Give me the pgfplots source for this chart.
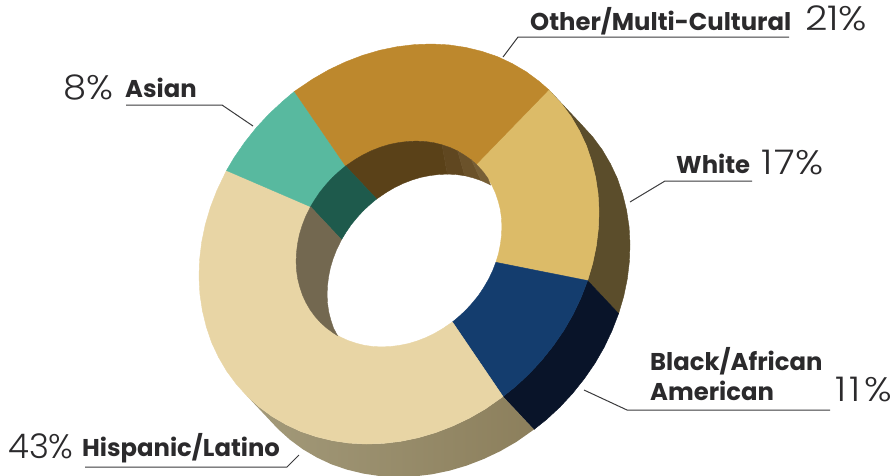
\documentclass[border=0pt]{standalone}
\usepackage{graphicx}
\usepackage{pgfplots}
\usepackage{fontspec}
\pgfplotsset{compat=1.18}
\setmainfont{Poppins}
\newfontfamily\lightf{Poppins Light}
\definecolor{txt}{HTML}{2B2A2C}
\definecolor{lead}{HTML}{3A3A3C}
\definecolor{cHisp}{HTML}{E8D5A5}
\definecolor{cTeal}{HTML}{58B99F}
\definecolor{cOrange}{HTML}{BD882D}
\definecolor{cGold}{HTML}{DCBB68}
\definecolor{cBlue}{HTML}{143D6E}
\definecolor{sGold}{HTML}{5B4D2B}
\definecolor{sBlue}{HTML}{091429}
\definecolor{sHispL}{HTML}{A39A7A}
\definecolor{sHispR}{HTML}{8C7F5C}
\definecolor{wOrange}{HTML}{5A4118}
\definecolor{wOrangeA}{HTML}{604720}
\definecolor{wOrangeB}{HTML}{6B522A}
\definecolor{wOrangeC}{HTML}{775F36}
\definecolor{wTeal}{HTML}{1E5A4C}
\definecolor{wHisp}{HTML}{736850}
\newcommand{\lab}[1]{\fontsize{24.3}{24.3}\selectfont\bfseries #1}
\newcommand{\pct}[2]{\scalebox{#1}[1]{\fontsize{34}{34}\selectfont\lightf #2}}
\begin{document}
\begin{tikzpicture}
\useasboundingbox (0,0) rectangle (894pt,475pt);
\begin{axis}[scale only axis,width=894pt,height=475pt,
    xmin=0,xmax=894,ymin=0,ymax=475,y dir=reverse,hide axis,
    every axis plot/.append style={line width=0.4pt},
    clip=true]

% outer side of the ring
\addplot[fill=sGold,draw=sGold] coordinates {
 (548.7,89.7) (561.7,103.9) (571.3,116.9) (579.5,130.9) (586.4,145.6) (591.7,161.3) (595.6,177.4) (598.1,194.1) (599,211.2) (598.4,228.4) (596.3,245.9) (592.7,263.3) (587.6,280.6)
 (618.6,313.6) (623.7,296.3) (627.3,278.9) (629.4,261.4) (630,244.2) (629.1,227.1) (626.6,210.4) (622.7,194.3) (617.4,178.6) (610.5,163.9) (602.3,149.9) (592.7,136.9) (579.7,122.7)} -- cycle;
\addplot[fill=sBlue,draw=sBlue] coordinates {
 (587.6,280.6) (581.1,297.5) (573.2,314.2) (564,330.2) (553.4,345.6) (541.7,360.3) (529,374) (515.3,386.7) (503,396.5)
 (534,429.5) (546.3,419.7) (560,407) (572.7,393.3) (584.4,378.6) (595,363.2) (604.2,347.2) (612.1,330.5) (618.6,313.6)} -- cycle;
\addplot[left color=sHispL,right color=sHispR,draw=none] coordinates {
 (503,396.5) (485.2,409) (469.2,418.2) (452.5,426.1) (435.6,432.6) (418.3,437.7) (400.9,441.3) (383.4,443.4) (366.2,444) (349.1,443.1) (332.4,440.6) (316.3,436.7) (300.6,431.4) (285.9,424.5) (271.9,416.3) (258.9,406.7) (247,396)
 (278,429) (289.9,439.7) (302.9,449.3) (316.9,457.5) (331.6,464.4) (347.3,469.7) (363.4,473.6) (380.1,476.1) (397.2,477) (414.4,476.4) (431.9,474.3) (449.3,470.7) (466.6,465.6) (483.5,459.1) (500.2,451.2) (516.2,442) (534,429.5)} -- cycle;

% front face
\addplot[fill=cGold,draw=cGold] coordinates {
 (548.7,89.7) (561.7,103.9) (571.3,116.9) (579.5,130.9) (586.4,145.6) (591.7,161.3) (595.6,177.4) (598.1,194.1) (599,211.2) (598.4,228.4) (596.3,245.9) (592.7,263.3) (587.6,280.6)
 (495.9,262.3) (498.6,253.4) (500.4,244.4) (501.5,235.5) (501.9,226.7) (501.5,217.9) (500.3,209.3) (498.2,201) (495.5,192.9) (492,185.4) (487.9,178.3) (483,171.6) (476.3,164.3)} -- cycle;
\addplot[fill=cBlue,draw=cBlue] coordinates {
 (587.6,280.6) (581.1,297.5) (573.2,314.2) (564,330.2) (553.4,345.6) (541.7,360.3) (529,374) (515.3,386.7) (503,396.5)
 (452.4,322) (458.4,317) (465.5,310.5) (472,303.4) (478.2,295.8) (483.5,287.9) (488.3,279.7) (492.5,271.1) (495.9,262.3)} -- cycle;
\addplot[fill=cHisp,draw=cHisp] coordinates {
 (503,396.5) (485.2,409) (469.2,418.2) (452.5,426.1) (435.6,432.6) (418.3,437.7) (400.9,441.3) (383.4,443.4) (366.2,444) (349.1,443.1) (332.4,440.6) (316.3,436.7) (300.6,431.4) (285.9,424.5) (271.9,416.3) (258.9,406.7) (247,396)
 (236.3,384.1) (226.7,371.1) (218.5,357.1) (211.6,342.4) (206.3,326.7) (202.4,310.6) (199.9,293.9) (199,276.8) (199.6,259.6) (201.7,242.1) (205.3,224.7) (210.4,207.4) (216.9,190.5) (226.5,170.5)
 (310.5,206.7) (305.5,216.9) (302.1,225.7) (299.4,234.6) (297.6,243.6) (296.5,252.5) (296.1,261.3) (296.5,270.1) (297.7,278.7) (299.8,287) (302.5,295.1) (306,302.6) (310.1,309.7) (315,316.4) (320.5,322.5) (326.6,328)
 (333.3,332.9) (340.4,337) (347.9,340.5) (356,343.2) (364.3,345.3) (372.9,346.5) (381.7,346.9) (390.5,346.5) (399.4,345.4) (408.4,343.6) (417.3,340.9) (426.1,337.5) (434.7,333.3) (442.9,328.5) (452.4,322)} -- cycle;
\addplot[fill=cTeal,draw=cTeal] coordinates {
 (226.5,170.5) (234,157.8) (244.6,142.4) (256.3,127.7) (269,114) (282.7,101.3) (294.4,91.4)
 (345.6,166) (339.6,171) (332.5,177.5) (326,184.6) (319.8,192.2) (314.5,200.1) (310.5,206.7)} -- cycle;
\addplot[fill=cOrange,draw=cOrange] coordinates {
 (294.4,91.4) (312.8,79) (328.8,69.8) (345.5,61.9) (362.4,55.4) (379.7,50.3) (397.1,46.7) (414.6,44.6) (431.8,44) (448.9,44.9) (465.6,47.4) (481.7,51.3) (497.4,56.6) (512.1,63.5) (526.1,71.7) (539.1,81.3) (548.7,89.7)
 (476.3,164.3) (471.4,160) (464.7,155.3) (457.6,151) (450.1,147.5) (442,144.8) (433.7,142.7) (425.1,141.5) (416.3,141.1) (407.5,141.5) (398.6,142.6) (389.6,144.4) (380.7,147.1) (371.9,150.5) (363.3,154.7) (355.1,159.5) (345.6,166)} -- cycle;

% inner wall seen through the hole
\addplot[fill=wOrange,draw=wOrange] coordinates {
 (442,144.8) (433.7,142.7) (425.1,141.5) (416.3,141.1) (407.5,141.5) (398.6,142.6) (389.6,144.4) (380.7,147.1) (371.9,150.5) (363.3,154.7) (355.1,159.5) (345.6,166)
 (376.6,199) (386.1,192.5) (394.3,187.7) (402.9,183.5) (411.7,180.1) (420.6,177.4) (429.6,175.6) (438.5,174.5) (447.3,174.1)} -- cycle;
\addplot[fill=wOrangeA,draw=wOrangeA] coordinates {
 (442,144.8) (450.1,147.5) (457.6,151) (464.7,175.7) (456.1,174.5) (447.3,174.1)} -- cycle;
\addplot[fill=wOrangeB,draw=wOrangeB] coordinates {
 (457.6,151) (464.7,155.3) (471.4,160) (481.1,180.5) (473,177.8) (464.7,175.7)} -- cycle;
\addplot[fill=wOrangeC,draw=wOrangeC] coordinates {
 (471.4,160) (476.3,164.3) (483,171.6) (487.9,178.3) (490.5,185) (488.6,184) (481.1,180.5)} -- cycle;
\addplot[fill=wTeal,draw=wTeal] coordinates {
 (345.6,166) (339.6,171) (332.5,177.5) (326,184.6) (319.8,192.2) (314.5,200.1) (310.5,206.7)
 (341.5,239.7) (345.5,233.1) (350.8,225.2) (357,217.6) (363.5,210.5) (370.6,204) (376.6,199)} -- cycle;
\addplot[fill=wHisp,draw=wHisp] coordinates {
 (310.5,206.7) (305.5,216.9) (302.1,225.7) (299.4,234.6) (297.6,243.6) (296.5,252.5) (296.1,261.3) (296.5,270.1) (297.7,278.7) (299.8,287) (302.5,295.1) (306,302.6) (310.1,309.7) (315,316.4) (320.5,322.5) (326.6,328) (333.3,332.9) (337.5,335.6)
 (333.5,328.1) (330.8,320) (328.7,311.7) (327.5,303.1) (327.1,294.3) (327.5,285.5) (328.6,276.6) (330.4,267.6) (333.1,258.7) (336.5,249.9) (341.5,239.7)} -- cycle;

% leader lines
\addplot[lead,line width=1pt] coordinates {(503,57) (518,37) (789,37)};
\addplot[lead,line width=1pt] coordinates {(253,126) (222,105) (126,105)};
\addplot[lead,line width=1pt] coordinates {(630,202) (665,181) (752,181)};
\addplot[lead,line width=1pt] coordinates {(584,390) (627,410) (830,410)};
\addplot[lead,line width=1pt] coordinates {(299,455) (287,467) (85,467)};

% labels
\node[anchor=base west,inner sep=0,txt] at (axis cs:530,30) {\lab{Other/Multi-Cultural}};
\node[anchor=base west,inner sep=0,txt] at (axis cs:805,30) {\pct{1.15}{21\%}};
\node[anchor=base west,inner sep=0,txt] at (axis cs:63,99) {\pct{1.09}{8\%}};
\node[anchor=base west,inner sep=0,txt] at (axis cs:125,97) {\lab{Asian}};
\node[anchor=base west,inner sep=0,txt] at (axis cs:676,173) {\lab{White}};
\node[anchor=base west,inner sep=0,txt] at (axis cs:761,174) {\pct{1.14}{1\kern2pt 7\%}};
\node[anchor=base west,inner sep=0,txt] at (axis cs:650,370) {\lab{Black/African}};
\node[anchor=base west,inner sep=0,txt] at (axis cs:650,400) {\lab{American}};
\node[anchor=base west,inner sep=0,txt] at (axis cs:835,401) {\pct{1.12}{1\kern3pt 1\kern3pt\%}};
\node[anchor=base west,inner sep=0,txt] at (axis cs:8,458) {\pct{1}{43\%}};
\node[anchor=base west,inner sep=0,txt] at (axis cs:82,456) {\lab{Hispanic/Latino}};
\end{axis}
\end{tikzpicture}
\end{document}
